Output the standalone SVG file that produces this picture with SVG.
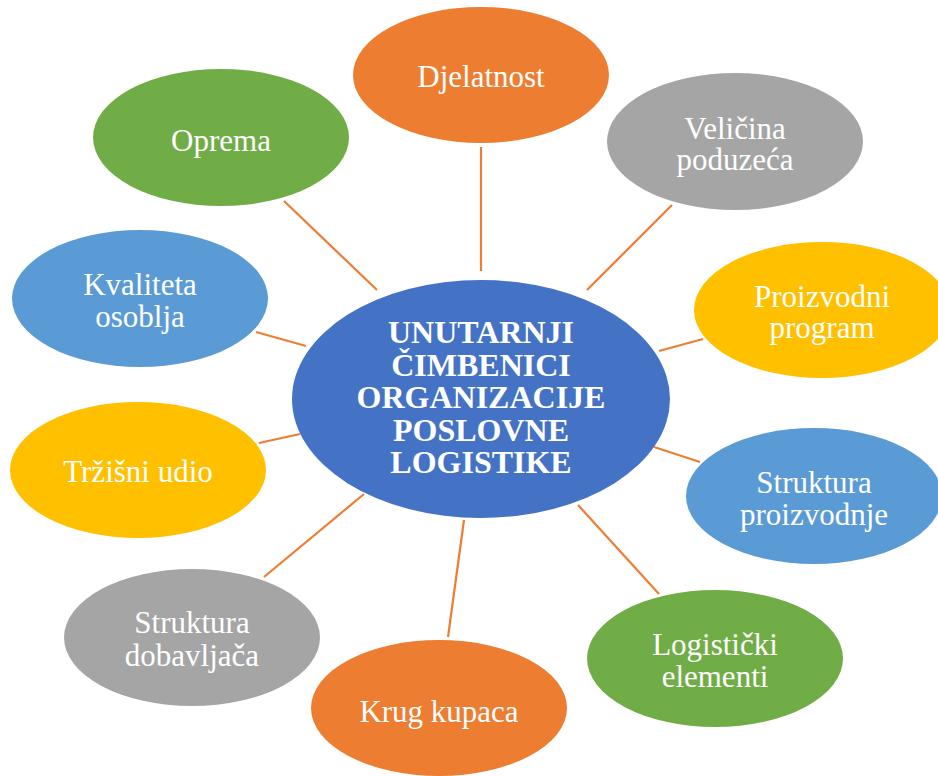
<svg xmlns="http://www.w3.org/2000/svg" width="938" height="776" viewBox="0 0 938 776">
<style>
.lbl{font-family:"Liberation Serif","Times New Roman",serif;font-size:31px;fill:#ffffff;text-anchor:middle}
.ctr{font-family:"Liberation Serif","Times New Roman",serif;font-size:32px;font-weight:bold;fill:#ffffff;text-anchor:middle}
.conn line{stroke:#ED7D31;stroke-width:2.2}
.orange{fill:#ED7D31}.gray{fill:#A5A5A5}.yellow{fill:#FFC000}.blue{fill:#5B9BD5}.green{fill:#70AD47}.dark{fill:#4472C4}
</style>
<rect width="938" height="776" fill="#ffffff"/>
<g id="connectors" class="conn">
<line x1="481" y1="147" x2="481" y2="271"/>
<line x1="672" y1="205" x2="587" y2="290"/>
<line x1="659" y1="351" x2="703" y2="339"/>
<line x1="654" y1="447" x2="700" y2="462"/>
<line x1="578" y1="505" x2="659" y2="594"/>
<line x1="464" y1="520" x2="448" y2="637"/>
<line x1="364" y1="494" x2="264" y2="577"/>
<line x1="259" y1="443" x2="300" y2="434"/>
<line x1="256" y1="332" x2="306" y2="346"/>
<line x1="284" y1="201" x2="377" y2="290"/>
</g>
<g id="center">
<ellipse class="dark" cx="481" cy="399" rx="189" ry="119"/>
<text class="ctr" x="481" y="343">UNUTARNJI</text>
<text class="ctr" x="481" y="376">ČIMBENICI</text>
<text class="ctr" x="481" y="408">ORGANIZACIJE</text>
<text class="ctr" x="481" y="441">POSLOVNE</text>
<text class="ctr" x="481" y="473">LOGISTIKE</text>
</g>
<g id="djelatnost">
<ellipse class="orange" cx="481" cy="75" rx="128" ry="68"/>
<text class="lbl" x="481" y="87">Djelatnost</text>
</g>
<g id="velicina">
<ellipse class="gray" cx="735" cy="141.5" rx="128" ry="68.5"/>
<text class="lbl" x="735" y="139">Veličina</text>
<text class="lbl" x="735" y="170">poduzeća</text>
</g>
<g id="proizvodni">
<ellipse class="yellow" cx="822" cy="310" rx="128" ry="68"/>
<text class="lbl" x="822" y="307">Proizvodni</text>
<text class="lbl" x="822" y="338">program</text>
</g>
<g id="struktura-proizvodnje">
<ellipse class="blue" cx="814" cy="496" rx="128" ry="68"/>
<text class="lbl" x="814" y="493">Struktura</text>
<text class="lbl" x="814" y="525">proizvodnje</text>
</g>
<g id="logisticki">
<ellipse class="green" cx="715" cy="658.5" rx="128" ry="68.5"/>
<text class="lbl" x="715" y="655">Logistički</text>
<text class="lbl" x="715" y="687">elementi</text>
</g>
<g id="krug-kupaca">
<ellipse class="orange" cx="439" cy="708" rx="128" ry="68"/>
<text class="lbl" x="439" y="722">Krug kupaca</text>
</g>
<g id="struktura-dobavljaca">
<ellipse class="gray" cx="192" cy="637.5" rx="128" ry="68.5"/>
<text class="lbl" x="192" y="633">Struktura</text>
<text class="lbl" x="192" y="666">dobavljača</text>
</g>
<g id="trzisni-udio">
<ellipse class="yellow" cx="138" cy="470" rx="128" ry="68"/>
<text class="lbl" x="138" y="482">Tržišni udio</text>
</g>
<g id="kvaliteta">
<ellipse class="blue" cx="140" cy="298.5" rx="128" ry="68.5"/>
<text class="lbl" x="140" y="295">Kvaliteta</text>
<text class="lbl" x="140" y="327">osoblja</text>
</g>
<g id="oprema">
<ellipse class="green" cx="221" cy="137.5" rx="128" ry="68.5"/>
<text class="lbl" x="221" y="151">Oprema</text>
</g>
</svg>
